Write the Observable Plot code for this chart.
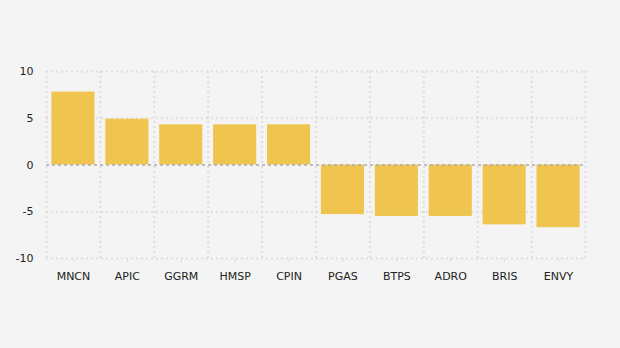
<!DOCTYPE html>
<html>
<head>
<meta charset="utf-8">
<script src="https://cdn.jsdelivr.net/npm/d3@7"></script>
<script src="https://cdn.jsdelivr.net/npm/@observablehq/plot@0.6"></script>
<style>
  html, body { margin: 0; padding: 0; background: #f4f4f4; }
  #chart svg { display: block; }
</style>
</head>
<body>
<div id="chart"></div>
<script>
const categories = ["MNCN", "APIC", "GGRM", "HMSP", "CPIN", "PGAS", "BTPS", "ADRO", "BRIS", "ENVY"];
const values = [7.8, 4.9, 4.3, 4.3, 4.3, -5.3, -5.5, -5.5, -6.4, -6.7];
const yTicks = [-10, -5, 0, 5, 10];

const data = categories.map((c, i) => ({ name: c, value: values[i] }));

const W = 620, H = 348;
const mL = 46, mR = 35, mT = 71, mB = 90;
const step = (W - mL - mR) / categories.length;
const grid = { stroke: "#dedede", strokeWidth: 2, strokeDasharray: "2,3" };

const chart = Plot.plot({
  width: W,
  height: H,
  marginLeft: mL,
  marginRight: mR,
  marginTop: mT,
  marginBottom: mB,
  style: { background: "#f4f4f4", fontFamily: "DejaVu Sans", fontSize: "11px", color: "#222" },
  x: { domain: categories, paddingInner: 0.2, paddingOuter: 0.1, round: false, label: null },
  y: { domain: [-10, 10], ticks: yTicks, label: null },
  marks: [
    Plot.ruleY(yTicks.filter(t => t !== 0), grid),
    Plot.ruleX(categories, { x: d => d, dx: -step / 2, ...grid }),
    Plot.ruleX([categories[categories.length - 1]], { x: d => d, dx: step / 2, ...grid }),
    Plot.barY(data, { x: "name", y: "value", fill: "#eec03e", fillOpacity: 0.9 }),
    Plot.ruleY([0], { stroke: "#aaaaaa", strokeWidth: 1.5, strokeDasharray: "3,3" }),
    Plot.axisY({ ticks: yTicks, tickSize: 0, tickPadding: 13, tickFormat: d => String(d), fontSize: 11, fill: "#222" }),
    Plot.axisX({ tickSize: 4, tickPadding: 10, stroke: "#dcdcdc", fontSize: 11, fill: "#222" })
  ]
});
document.getElementById("chart").appendChild(chart);
</script>
</body>
</html>
